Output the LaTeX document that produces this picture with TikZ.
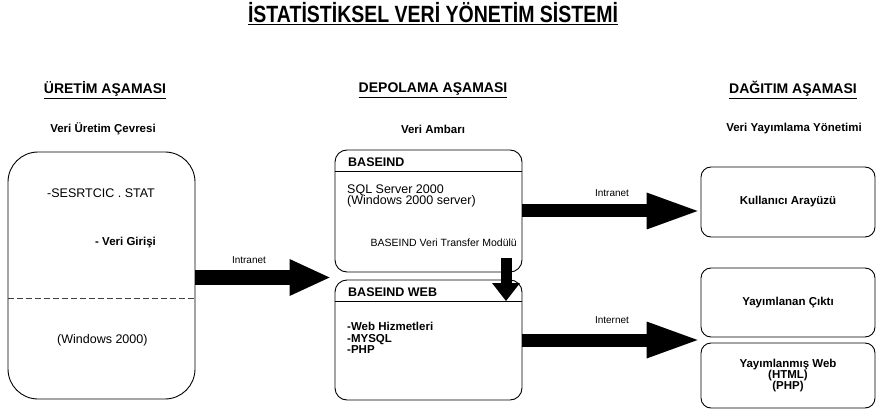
\documentclass[tikz,border=0pt]{standalone}
\usepackage{fontspec}
\setmainfont{Liberation Sans}
\newfontfamily\darfont[FakeStretch=0.83]{Liberation Sans}
\usetikzlibrary{arrows.meta}

\begin{document}
\begin{tikzpicture}[x=1pt,y=-1pt,
    kutu/.style={draw, line width=0.9pt, inner sep=0pt},
    etiket/.style={font=\fontsize{10}{10}\selectfont, inner sep=0pt},
    okA/.style={line width=15pt, -{Triangle[length=40pt,width=37pt,line width=0pt]}},
    okB/.style={line width=13pt, -{Triangle[length=51pt,width=37pt,line width=0pt]}},
    okC/.style={line width=11pt, -{Triangle[length=18pt,width=28pt,line width=0pt]}}]
        \useasboundingbox (0,0) rectangle (878,414);
        % baslik
        \node[font=\darfont\bfseries\fontsize{23.5}{26}\selectfont] (baslik) at (433,14) {\underline{İSTATİSTİKSEL VERİ YÖNETİM SİSTEMİ}};
        \node[font=\bfseries\fontsize{14}{16}\selectfont] (uretimb) at (105,90) {\underline{ÜRETİM AŞAMASI}};
        \node[font=\bfseries\fontsize{14}{16}\selectfont] (depob) at (433,90) {\underline{DEPOLAMA AŞAMASI}};
        \node[font=\bfseries\fontsize{14}{16}\selectfont] (dagitimb) at (793,90) {\underline{DAĞITIM AŞAMASI}};
        \node[font=\bfseries\fontsize{11.5}{12}\selectfont] (cevre) at (103,129) {Veri Üretim Çevresi};
        \node[font=\bfseries\fontsize{11.5}{12}\selectfont] (ambar) at (433,129) {Veri Ambarı};
        \node[font=\bfseries\fontsize{11.5}{12}\selectfont] (yonetim) at (794,129) {Veri Yayımlama Yönetimi};
        % uretim kutusu
        \node[kutu, rounded corners=30pt, minimum width=187pt, minimum height=247pt] (uretim) at (101.5,275.5) {};
        \draw[dashed, dash pattern=on 6pt off 3pt, black!75, line width=0.9pt] ([yshift=-22.5pt]uretim.west) -- ([yshift=-22.5pt]uretim.east);
        \node[anchor=west, font=\fontsize{12.5}{12}\selectfont, inner sep=0pt] (sesrtcic) at (47,193) {-SESRTCIC . STAT};
        \node[anchor=west, font=\bfseries\fontsize{11.5}{12}\selectfont, inner sep=0pt] (giris) at (95,243) {- Veri Girişi};
        \node[anchor=west, font=\fontsize{12.5}{12}\selectfont, inner sep=0pt] (windows) at (57,340) {(Windows 2000)};
        % depolama kutulari
        \node[kutu, rounded corners=12pt, minimum width=187pt, minimum height=122pt] (baseind) at (428.5,211) {};
        \draw[line width=0.9pt] ([yshift=-22pt]baseind.north west) -- ([yshift=-22pt]baseind.north east);
        \node[anchor=west, font=\bfseries\fontsize{12.5}{12}\selectfont, inner sep=0pt] (baseindad) at (348,162) {BASEIND};
        \node[anchor=west, align=left, font=\fontsize{12.5}{11.5}\selectfont, inner sep=0pt] (sql) at (347,196) {SQL Server 2000\\(Windows 2000 server)};
        \node[anchor=east, font=\fontsize{10.5}{11}\selectfont, inner sep=0pt] (transfer) at (517,243) {BASEIND Veri Transfer Modülü};
        \node[kutu, rounded corners=12pt, minimum width=187pt, minimum height=120pt] (baseindweb) at (428.5,340) {};
        \draw[line width=0.9pt] ([yshift=-22pt]baseindweb.north west) -- ([yshift=-22pt]baseindweb.north east);
        \node[anchor=west, font=\bfseries\fontsize{12.5}{12}\selectfont, inner sep=0pt] (webad) at (348,292) {BASEIND WEB};
        \node[anchor=west, align=left, font=\bfseries\fontsize{11.5}{11.5}\selectfont, inner sep=0pt] (liste) at (347,338) {-Web Hizmetleri\\-MYSQL\\-PHP};
        % dagitim kutulari
        \node[kutu, rounded corners=10pt, minimum width=174pt, minimum height=70pt, font=\bfseries\fontsize{11.5}{12}\selectfont] (kullanici) at (788,202) {Kullanıcı Arayüzü};
        \node[kutu, rounded corners=10pt, minimum width=174pt, minimum height=69pt, font=\bfseries\fontsize{11.5}{12}\selectfont] (cikti) at (788,302.5) {Yayımlanan Çıktı};
        \node[kutu, rounded corners=10pt, minimum width=174pt, minimum height=65pt, align=center, font=\bfseries\fontsize{11.5}{11}\selectfont] (yayimweb) at (788,375.5) {Yayımlanmış Web\\(HTML)\\(PHP)};
        % oklar
        \draw[okA] ([yshift=-2pt]uretim.east) -- ([xshift=-5pt,yshift=-2pt]uretim.east -| baseindweb.west);
        \node[etiket] (intranet1) at (249,260) {Intranet};
        \draw[okB] (baseind.east) -- ([xshift=-3pt]baseind.east -| kullanici.west);
        \node[etiket] (intranet2) at (612,193) {Intranet};
        \draw[okB] (baseindweb.east) -- ([xshift=-3pt]baseindweb.east -| cikti.west);
        \node[etiket] (internet) at (612,320) {Internet};
        \coordinate (aktarA) at (506,258);
        \coordinate (aktarB) at (506,301);
        \draw[okC] (aktarA) -- (aktarB);
\end{tikzpicture}
\end{document}
